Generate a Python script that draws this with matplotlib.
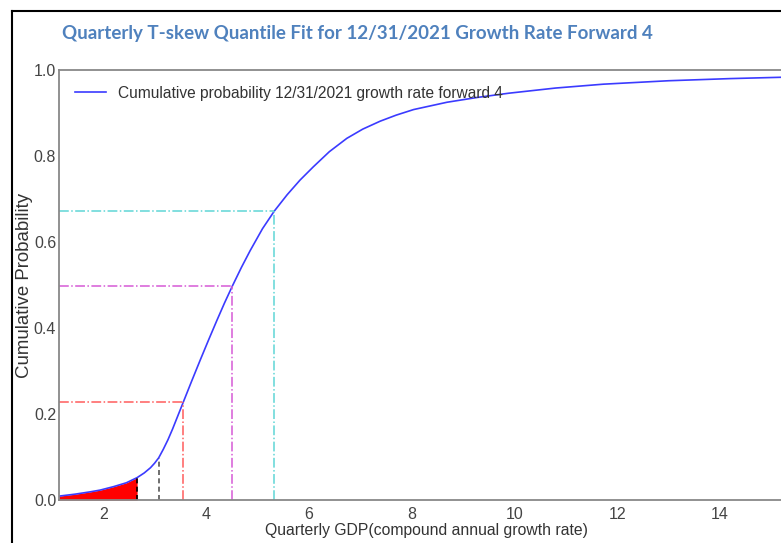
import matplotlib.pyplot as plt
from matplotlib.lines import Line2D

plt.rcParams['font.family'] = ['Liberation Sans', 'DejaVu Sans']

# fitted cumulative probability curve
growth = [1.14, 1.45, 1.75, 1.94, 2.20, 2.45, 2.66, 2.80, 2.92, 3.00, 3.08, 3.17,
          3.26, 3.35, 3.45, 3.56, 3.72, 3.89, 4.05, 4.21, 4.36, 4.515, 4.69, 4.86,
          5.10, 5.33, 5.58, 5.83, 6.09, 6.40, 6.74, 7.05, 7.39, 7.70, 8.04, 8.69,
          9.27, 9.89, 10.8, 11.73, 13.0, 14.2, 15.17, 16.0]
cum_prob = [0.009, 0.0135, 0.019, 0.023, 0.031, 0.040, 0.052, 0.063, 0.075, 0.0855,
            0.098, 0.118, 0.140, 0.165, 0.195, 0.228, 0.276, 0.326, 0.372, 0.417,
            0.458, 0.498, 0.541, 0.580, 0.631, 0.672, 0.710, 0.744, 0.775, 0.810,
            0.841, 0.8625, 0.881, 0.895, 0.908, 0.925, 0.936, 0.946, 0.958, 0.967,
            0.975, 0.980, 0.983, 0.985]

# quantile markers
tail_x, tail_p = 2.66, 0.052
q10_x, q10_p = 3.08, 0.098
quant_x = [3.56, 4.515, 5.33]
quant_p = [0.228, 0.498, 0.672]
quant_colors = ['#ff5c5c', '#d65ad6', '#5fd6d6']

title = 'Quarterly T-skew Quantile Fit for 12/31/2021 Growth Rate Forward 4'
legend_label = 'Cumulative probability 12/31/2021 growth rate forward 4'

fig = plt.figure(figsize=(7.81, 5.43), dpi=100)
ax = fig.add_axes([0.0755, 0.0792, 0.978, 0.7919])
xmin = growth[0]

ax.plot(growth, cum_prob, color='#3b3bff', lw=1.2, label=legend_label)

# shaded left tail
tail = [(g, p) for g, p in zip(growth, cum_prob) if g <= tail_x]
ax.fill_between([t[0] for t in tail], [t[1] for t in tail], 0, color='red', lw=0)
ax.plot([tail_x, tail_x], [0, tail_p], color='black', ls='--', lw=1.2, dashes=(3, 2))
ax.plot([q10_x, q10_x], [0, q10_p], color='#555555', ls='--', lw=1.2, dashes=(3, 2))

for qx, qp, c in zip(quant_x, quant_p, quant_colors):
    ax.plot([qx, qx], [0, qp], color=c, ls='-.', lw=1.1)
    ax.plot([xmin, qx], [qp, qp], color=c, ls='-.', lw=1.1)

ax.set_xlim(xmin, 16)
ax.set_ylim(0, 1.0)
ax.set_xticks([2, 4, 6, 8, 10, 12, 14])
ax.set_yticks([0.0, 0.2, 0.4, 0.6, 0.8, 1.0])
ax.set_yticklabels(['0.0', '0.2', '0.4', '0.6', '0.8', '1.0'])
ax.tick_params(length=0, labelsize=11.5, labelcolor='#444444', pad=2)
ax.tick_params(axis='x', pad=5)
for s in ax.spines.values():
    s.set_color('#888888')
    s.set_linewidth(1.3)

ax.set_xlabel('Quarterly GDP(compound annual growth rate)', fontsize=11.3, color='#333333')
ax.xaxis.set_label_coords(0.4805, -0.053)
ax.set_ylabel('Cumulative Probability', fontsize=13.4, color='#333333')
ax.yaxis.set_label_coords(-0.034, 0.5)
ax.legend(loc='upper left', frameon=False, fontsize=11.2, handlelength=2.0,
          borderaxespad=0.6, labelcolor='#333333')

fig.text(62 / 781, 1 - 33 / 543, title, fontsize=13.5, fontweight='bold',
         family='Lato', color='#4F81BD', va='center', ha='left')

# screenshot border
fig.add_artist(Line2D([12 / 781, 12 / 781], [0, 1 - 11 / 543], color='black', lw=1.5,
                      transform=fig.transFigure))
fig.add_artist(Line2D([12 / 781, 1], [1 - 11 / 543, 1 - 11 / 543], color='black', lw=1.5,
                      transform=fig.transFigure))

fig.savefig('out.png', dpi=100)
